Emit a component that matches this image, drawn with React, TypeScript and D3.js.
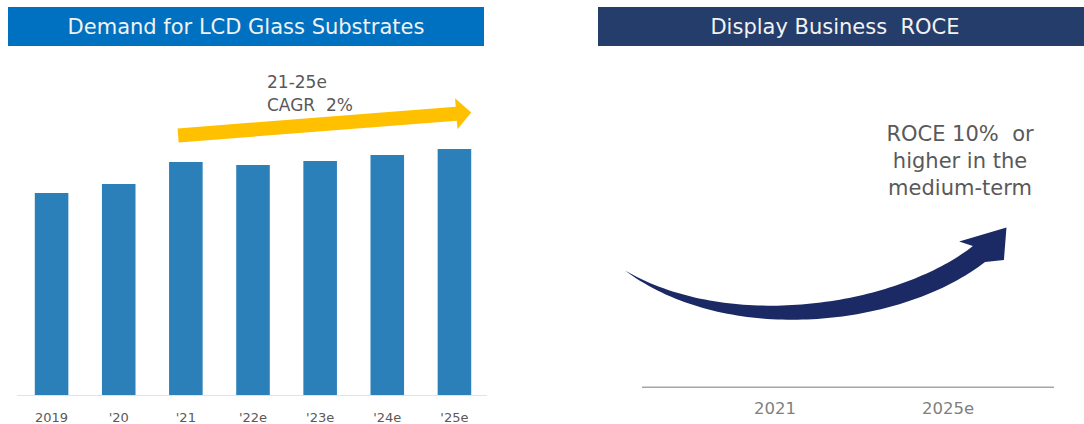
import React from "react";
import * as d3 from "d3";

// ---- Data ----
const categories = ["2019", "'20", "'21", "'22e", "'23e", "'24e", "'25e"];
const demand = [202, 211, 233, 230, 234, 240, 246];
const cagrLines = ["21-25e", "CAGR  2%"];
const roceYears = ["2021", "2025e"];
const roceNote = ["ROCE 10%  or", "higher in the", "medium-term"];
const leftTitle = "Demand for LCD Glass Substrates";
const rightTitle = "Display Business\u00a0\u00a0ROCE";

const W = 1084;
const H = 424;
const FONT = "'DejaVu Sans', Verdana, sans-serif";

function bezier(p0: number[], p1: number[], p2: number[], p3: number[], t: number) {
  const a = (1 - t) ** 3, b = 3 * (1 - t) ** 2 * t, c = 3 * (1 - t) * t * t, d = t ** 3;
  return [a * p0[0] + b * p1[0] + c * p2[0] + d * p3[0], a * p0[1] + b * p1[1] + c * p2[1] + d * p3[1]];
}

export default function App() {
  // Left panel scales
  const x = d3.scaleBand<string>().domain(categories).range([18, 488]).paddingInner(0.5).paddingOuter(0.25);
  const y = d3.scaleLinear().domain([0, 250]).range([395, 145]);

  // Yellow CAGR arrow geometry (from scale positions)
  const ax0 = (x("'21") as number) + x.bandwidth() * 0.27;
  const ax1 = (x("'25e") as number) + x.bandwidth();
  const ay0 = 135.5, ay1 = 112.5;
  const L = Math.hypot(ax1 - ax0, ay1 - ay0);
  const ang = (Math.atan2(ay1 - ay0, ax1 - ax0) * 180) / Math.PI;
  const sh = 7, hl = 15, hw = 15.5;
  const yellow = [[0, -sh], [L - hl, -sh], [L - hl, -hw], [L, 0], [L - hl, hw], [L - hl, sh], [0, sh]];

  // Right panel scale
  const xr = d3.scalePoint<string>().domain(roceYears).range([775, 948]);

  // Curved ROCE arrow
  const P0 = [625, 270.5], P1 = [730, 340];
  const P3 = [979, 254];
  const endAng = (-38 * Math.PI) / 180;
  const dv = [Math.cos(endAng), Math.sin(endAng)];
  const nv = [-dv[1], dv[0]];
  const k = 100;
  const P2 = [P3[0] - dv[0] * k, P3[1] - dv[1] * k];
  const N = 80;
  const top: number[][] = [];
  const bot: number[][] = [];
  for (let i = 0; i <= N; i++) {
    const t = i / N;
    const p = bezier(P0, P1, P2, P3, t);
    const pa = bezier(P0, P1, P2, P3, Math.max(0, t - 0.005));
    const pb = bezier(P0, P1, P2, P3, Math.min(1, t + 0.005));
    let tx = pb[0] - pa[0], ty = pb[1] - pa[1];
    const l = Math.hypot(tx, ty);
    tx /= l; ty /= l;
    const nx = -ty, ny = tx;
    const w = (20 * (1 - (1 - t) ** 2.2)) / 2;
    top.push([p[0] - nx * w, p[1] - ny * w]);
    bot.push([p[0] + nx * w, p[1] + ny * w]);
  }
  const fr = (a: number, b: number) => [P3[0] + dv[0] * a + nv[0] * b, P3[1] + dv[1] * a + nv[1] * b];
  const head = [fr(-8, -22), fr(38, -4), fr(16, 20)];
  const outline = [...top, ...head, ...bot.slice().reverse()];
  const line = d3.line().curve(d3.curveLinear);

  return (
    <svg width={W} height={H} style={{ position: "absolute", left: 0, top: 0 }} fontFamily={FONT}>
      {/* Left header */}
      <rect x={8} y={7} width={476} height={39} fill="#0070C0" />
      <text x={246} y={34} textAnchor="middle" fill="#F2F2F2" fontSize={21}>{leftTitle}</text>

      {/* Baseline */}
      <line x1={17} x2={487} y1={395.5} y2={395.5} stroke="#E3E3E3" strokeWidth={1.2} />

      {/* Bars */}
      {categories.map((c, i) => (
        <rect key={c} x={x(c)} y={y(demand[i])} width={x.bandwidth()} height={y(0) - y(demand[i])} fill="#2B80B9" />
      ))}

      {/* Category labels */}
      {categories.map((c) => (
        <text key={c} x={(x(c) as number) + x.bandwidth() / 2} y={421.5} textAnchor="middle" fill="#595959" fontSize={13}>{c}</text>
      ))}

      {/* CAGR arrow */}
      <path d={line(yellow as [number, number][]) + "Z"} fill="#FFC000" transform={`translate(${ax0},${ay0}) rotate(${ang})`} />
      {cagrLines.map((t, i) => (
        <text key={t} x={267} y={88 + i * 22.6} fill="#595959" fontSize={17} style={{ whiteSpace: "pre" }}>{t}</text>
      ))}

      {/* Right header */}
      <rect x={598} y={7} width={490} height={39} fill="#253D6B" />
      <text x={835} y={34} textAnchor="middle" fill="#F2F2F2" fontSize={21}>{rightTitle}</text>

      {/* ROCE arrow */}
      <path d={line(outline as [number, number][]) + "Z"} fill="#1B2A64" />

      {/* ROCE note */}
      {roceNote.map((t, i) => (
        <text key={t} x={960} y={141 + i * 27} textAnchor="middle" fill="#595959" fontSize={21} style={{ whiteSpace: "pre" }}>{t}</text>
      ))}

      {/* Right axis */}
      <line x1={642} x2={1054} y1={387.3} y2={387.3} stroke="#A6A6A6" strokeWidth={1.5} />
      {roceYears.map((yr) => (
        <text key={yr} x={xr(yr)} y={414} textAnchor="middle" fill="#7F7F7F" fontSize={16.5}>{yr}</text>
      ))}
    </svg>
  );
}
